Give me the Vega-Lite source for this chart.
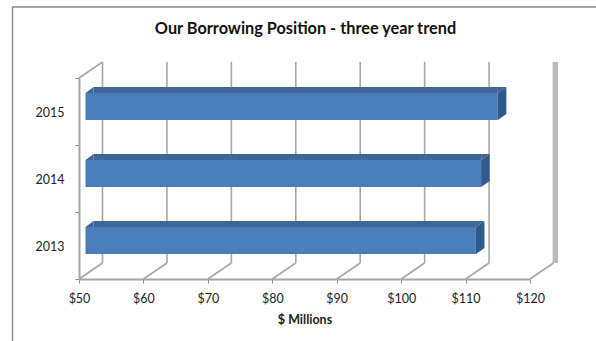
{
  "$schema": "https://vega.github.io/schema/vega-lite/v6.json",
  "width": 451,
  "height": 201,
  "autosize": {"type": "none"},
  "padding": {"left": 79, "top": 78, "right": 66, "bottom": 62},
  "background": "white",
  "config": {"view": {"stroke": null}, "font": "Lato"},
  "title": {"text": "Our Borrowing Position - three year trend", "font": "Lato", "fontSize": 16.3, "fontWeight": "bold", "color": "#111111", "anchor": "middle", "frame": "group", "offset": -31, "dx": 1},
  "datasets": {
    "debt": [
      {"year": "2015", "millions": 114},
      {"year": "2014", "millions": 111.4},
      {"year": "2013", "millions": 110.6}
    ],
    "ticks": [
      {"dollars": 50}, {"dollars": 60}, {"dollars": 70}, {"dollars": 80},
      {"dollars": 90}, {"dollars": 100}, {"dollars": 110}, {"dollars": 120}
    ]
  },
  "data": {"name": "debt"},
  "layer": [
    {
      "data": {"name": "ticks"},
      "mark": {"type": "rule", "color": "#a6a6a6", "strokeWidth": 1.6, "xOffset": 23.5, "x2Offset": 23.5, "yOffset": -16, "y2Offset": -16},
      "encoding": {
        "x": {"field": "dollars", "type": "quantitative", "scale": {"domain": [50, 120], "nice": false}},
        "x2": {"field": "dollars"},
        "y": {"value": 0},
        "y2": {"value": {"expr": "height"}}
      }
    },
    {
      "data": {"name": "ticks"},
      "transform": [{"filter": "datum.dollars === 120"}],
      "mark": {"type": "rule", "color": "#bcbcbc", "strokeWidth": 5, "xOffset": 25.5, "x2Offset": 25.5, "yOffset": -16, "y2Offset": -16},
      "encoding": {
        "x": {"field": "dollars", "type": "quantitative"},
        "x2": {"field": "dollars"},
        "y": {"value": 0},
        "y2": {"value": {"expr": "height"}}
      }
    },
    {
      "data": {"name": "ticks"},
      "mark": {"type": "rule", "color": "#a6a6a6", "strokeWidth": 1.6, "x2Offset": 23.5, "y2Offset": -16},
      "encoding": {
        "x": {"field": "dollars", "type": "quantitative"},
        "x2": {"field": "dollars"},
        "y": {"value": {"expr": "height"}},
        "y2": {"value": {"expr": "height"}}
      }
    },
    {
      "data": {"name": "ticks"},
      "transform": [{"filter": "datum.dollars === 50"}],
      "mark": {"type": "rule", "color": "#a6a6a6", "strokeWidth": 1.6, "x2Offset": 23.5, "y2Offset": -16},
      "encoding": {
        "x": {"field": "dollars", "type": "quantitative"},
        "x2": {"field": "dollars"},
        "y": {"value": 0},
        "y2": {"value": 0}
      }
    },
    {
      "data": {"name": "ticks"},
      "transform": [{"filter": "datum.dollars === 50"}],
      "mark": {"type": "rule", "color": "#8a8a8a", "strokeWidth": 1.4, "xOffset": -66.5, "x2Offset": -66.5, "yOffset": -71, "y2Offset": 62},
      "encoding": {
        "x": {"field": "dollars", "type": "quantitative"},
        "x2": {"field": "dollars"},
        "y": {"value": 0},
        "y2": {"value": {"expr": "height"}}
      }
    },
    {
      "data": {"name": "ticks"},
      "transform": [{"filter": "datum.dollars === 50"}],
      "mark": {"type": "rule", "color": "#8a8a8a", "strokeWidth": 1.4, "xOffset": -67, "x2Offset": 66, "yOffset": -71},
      "encoding": {
        "x": {"field": "dollars", "type": "quantitative"},
        "x2": {"datum": 120},
        "y": {"value": 0}
      }
    },
    {
      "mark": {"type": "bar", "orient": "horizontal", "color": "#3f6699", "size": 6, "xOffset": 6.5, "x2Offset": 14.5, "yOffset": -21.5},
      "encoding": {
        "y": {"field": "year", "type": "ordinal", "sort": ["2015", "2014", "2013"], "scale": {"paddingInner": 0, "paddingOuter": 0}, "title": null,
          "axis": {"tickBand": "extent", "domainColor": "#a6a6a6", "domainWidth": 2, "tickColor": "#8c8c8c", "tickSize": 4, "labelAngle": 0, "labelFontSize": 12.5, "labelColor": "#222222", "labelPadding": 11, "labelOffset": 1}},
        "x": {"field": "millions", "type": "quantitative"},
        "x2": {"datum": 50}
      }
    },
    {
      "mark": {"type": "bar", "orient": "horizontal", "color": "#2f5a8e", "size": 21, "xOffset": 6.5, "x2Offset": 15, "yOffset": -8},
      "encoding": {
        "y": {"field": "year", "type": "ordinal", "sort": ["2015", "2014", "2013"]},
        "x": {"field": "millions", "type": "quantitative"},
        "x2": {"field": "millions"}
      }
    },
    {
      "mark": {"type": "point", "filled": true, "opacity": 1, "color": "#3f6699", "strokeWidth": 0, "size": 64, "shape": "M-1 0.75 L1 0.75 L1 -0.75 Z", "xOffset": 10.5, "yOffset": -21.5},
      "encoding": {
        "y": {"field": "year", "type": "ordinal", "sort": ["2015", "2014", "2013"]},
        "x": {"datum": 50, "type": "quantitative"}
      }
    },
    {
      "mark": {"type": "point", "filled": true, "opacity": 1, "color": "#3f6699", "strokeWidth": 0, "size": 72, "shape": "M-1 -0.7 L1 -0.7 L-1 0.7 Z", "xOffset": 10.75, "yOffset": -21.5},
      "encoding": {
        "y": {"field": "year", "type": "ordinal", "sort": ["2015", "2014", "2013"]},
        "x": {"field": "millions", "type": "quantitative"}
      }
    },
    {
      "mark": {"type": "point", "filled": true, "opacity": 1, "color": "#2f5a8e", "strokeWidth": 0, "size": 72, "shape": "M-1 0.7 L1 -0.7 L1 0.7 Z", "xOffset": 10.75, "yOffset": -21.5},
      "encoding": {
        "y": {"field": "year", "type": "ordinal", "sort": ["2015", "2014", "2013"]},
        "x": {"field": "millions", "type": "quantitative"}
      }
    },
    {
      "mark": {"type": "point", "filled": true, "opacity": 1, "color": "#2f5a8e", "strokeWidth": 0, "size": 72, "shape": "M-1 -0.7 L1 -0.7 L-1 0.7 Z", "xOffset": 10.75, "yOffset": 5.5},
      "encoding": {
        "y": {"field": "year", "type": "ordinal", "sort": ["2015", "2014", "2013"]},
        "x": {"field": "millions", "type": "quantitative"}
      }
    },
    {
      "mark": {"type": "bar", "orient": "horizontal", "color": "#4a7ebb", "size": 27, "xOffset": 6.5, "x2Offset": 6.5, "yOffset": -5},
      "encoding": {
        "y": {"field": "year", "type": "ordinal", "sort": ["2015", "2014", "2013"]},
        "x": {
          "field": "millions", "type": "quantitative",
          "title": "$ Millions",
          "axis": {"values": [50, 60, 70, 80, 90, 100, 110, 120], "format": "$d", "grid": false, "labelFlush": false, "domainColor": "#a6a6a6", "domainWidth": 2, "tickColor": "#8c8c8c", "tickSize": 4, "labelFontSize": 12.5, "labelColor": "#222222", "labelPadding": 9, "titleFontSize": 12.5, "titleFontWeight": "bold", "titleColor": "#222222", "titlePadding": 9}
        },
        "x2": {"datum": 50}
      }
    }
  ]
}
